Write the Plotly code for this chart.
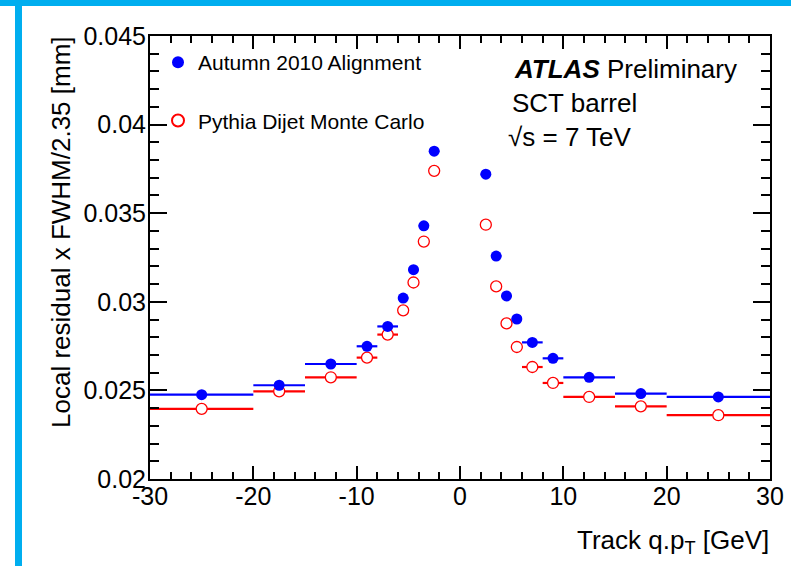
import plotly.graph_objects as go

# ---- data ----
bin_centers = [-25, -17.5, -12.5, -9, -7, -5.5, -4.5, -3.5, -2.5,
               2.5, 3.5, 4.5, 5.5, 7, 9, 12.5, 17.5, 25]
bin_halfwidths = [5, 2.5, 2.5, 1, 1, 0.5, 0.5, 0.5, 0.5,
                  0.5, 0.5, 0.5, 0.5, 1, 1, 2.5, 2.5, 5]
data_values = [0.02476, 0.02529, 0.02649, 0.02749, 0.02861, 0.03021, 0.03181, 0.03429, 0.0385,
               0.0372, 0.03258, 0.03033, 0.02903, 0.02771, 0.02681, 0.02574, 0.02482, 0.02463]
mc_values = [0.02396, 0.02495, 0.02574, 0.02685, 0.02815, 0.02952, 0.03109, 0.0334, 0.03739,
             0.03435, 0.03087, 0.02878, 0.02745, 0.02632, 0.02542, 0.02463, 0.0241, 0.0236]

series_names = ["Autumn 2010 Alignment", "Pythia Dijet Monte Carlo"]

x_tickvals = [-30, -20, -10, 0, 10, 20, 30]
x_ticktext = ["-30", "-20", "-10", "0", "10", "20", "30"]
y_tickvals = [0.02, 0.025, 0.03, 0.035, 0.04, 0.045]
y_ticktext = ["0.02", "0.025", "0.03", "0.035", "0.04", "0.045"]

FONT = "Liberation Sans, Arial, Helvetica, sans-serif"
W, H = 791, 566
L, R, T, B = 150, 21, 36, 87
pw, ph = W - L - R, H - T - B

def px2paper_x(px):
    return (px - L) / pw

def px2paper_y(py):
    return (H - B - py) / ph

fig = go.Figure()

fig.add_trace(go.Scatter(
    x=bin_centers, y=mc_values, mode="markers", name=series_names[1],
    legendgroup="mc", legendrank=2,
    marker=dict(symbol="circle", size=11, color="white",
                line=dict(color="#ff0000", width=1.3)),
    error_x=dict(type="data", array=bin_halfwidths, color="#ff0000",
                 thickness=2.2, width=0),
))
fig.add_trace(go.Scatter(
    x=bin_centers, y=data_values, mode="markers", name=series_names[0],
    legendgroup="data", legendrank=1,
    marker=dict(symbol="circle", size=11, color="#0000ff",
                line=dict(width=0)),
    error_x=dict(type="data", array=bin_halfwidths, color="#0000ff",
                 thickness=2.2, width=0),
))

axis_common = dict(
    showline=True, linecolor="black", linewidth=2, mirror="ticks",
    ticks="inside", tickcolor="black", tickwidth=1.5,
    showgrid=False, zeroline=False, automargin=False,
    tickfont=dict(family=FONT, size=25, color="black"),
)

fig.update_xaxes(
    range=[-30, 30], tickmode="array", tickvals=x_tickvals, ticktext=x_ticktext,
    ticklen=13, ticklabelstandoff=-6,
    minor=dict(dtick=2, tick0=0, ticks="inside", ticklen=7, tickcolor="black",
               tickwidth=1.5, showgrid=False),
    **axis_common,
)
fig.update_yaxes(
    range=[0.02, 0.045], tickmode="array", tickvals=y_tickvals, ticktext=y_ticktext,
    ticklen=17, ticklabelstandoff=-3,
    minor=dict(dtick=0.001, tick0=0.02, ticks="inside", ticklen=9, tickcolor="black",
               tickwidth=1.5, showgrid=False),
    **axis_common,
)

annotations = [
    dict(text="<b><i>ATLAS</i></b> Preliminary", x=px2paper_x(512), y=px2paper_y(69),
         xanchor="left", yanchor="middle", font=dict(size=26)),
    dict(text="SCT barrel", x=px2paper_x(510), y=px2paper_y(103),
         xanchor="left", yanchor="middle", font=dict(size=26)),
    dict(text="√s = 7 TeV", x=px2paper_x(506), y=px2paper_y(137),
         xanchor="left", yanchor="middle", font=dict(size=26)),
    dict(text="Local residual x FWHM/2.35 [mm]", textangle=-90,
         x=px2paper_x(61), y=px2paper_y(34), xanchor="center", yanchor="top",
         font=dict(size=26)),
    dict(text="Track q.p<sub>T</sub> [GeV]", x=px2paper_x(771), y=px2paper_y(541),
         xanchor="right", yanchor="middle", font=dict(size=26)),
]
for a in annotations:
    a.update(xref="paper", yref="paper", showarrow=False)
    a["font"].update(family=FONT, color="black")

border_color = "#00aeef"
shapes = [
    dict(type="rect", xref="paper", yref="paper",
         x0=px2paper_x(0), x1=px2paper_x(W), y0=px2paper_y(6), y1=px2paper_y(0),
         fillcolor=border_color, line=dict(width=0), layer="above"),
    dict(type="rect", xref="paper", yref="paper",
         x0=px2paper_x(15), x1=px2paper_x(22), y0=px2paper_y(H), y1=px2paper_y(0),
         fillcolor=border_color, line=dict(width=0), layer="above"),
]

fig.update_layout(
    width=W, height=H, autosize=False,
    margin=dict(l=L, r=R, t=T, b=B, pad=0, autoexpand=False),
    paper_bgcolor="white", plot_bgcolor="white",
    font=dict(family=FONT, color="black"),
    showlegend=True,
    legend=dict(x=px2paper_x(158), y=px2paper_y(42), xanchor="left", yanchor="top",
                bgcolor="rgba(0,0,0,0)", font=dict(family=FONT, size=21, color="black"),
                traceorder="grouped", tracegroupgap=28, itemsizing="constant"),
    annotations=annotations,
    shapes=shapes,
)

fig.write_html(
    "out.html",
    config={"displayModeBar": False, "responsive": False},
    post_script="document.body.style.margin='0px';document.body.style.overflow='hidden';"
                "document.documentElement.style.overflow='hidden';",
)
